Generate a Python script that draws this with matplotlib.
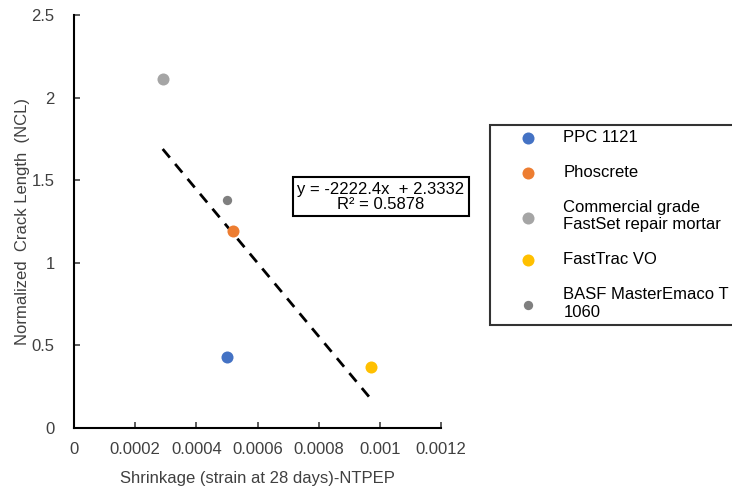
import numpy as np
import matplotlib
matplotlib.use("Agg")
import matplotlib.pyplot as plt

plt.rcParams['font.family'] = ['Liberation Sans', 'DejaVu Sans']

# datos
materials = ["PPC 1121", "Phoscrete", "Commercial grade\nFastSet repair mortar",
             "FastTrac VO", "BASF MasterEmaco T\n1060"]
shrinkage = [0.00050, 0.00052, 0.00029, 0.00097, 0.00050]
ncl = [0.43, 1.19, 2.11, 0.37, 1.38]
colors = ["#4472C4", "#ED7D31", "#A5A5A5", "#FFC000", "#7F7F7F"]
sizes = [75, 75, 75, 75, 45]

# linea de tendencia (Excel)
slope = -2222.4
intercept = 2.3332
r2 = 0.5878

fig = plt.figure(figsize=(7.32, 4.88), dpi=100)
ax = fig.add_axes([74/732, 1-428/488, (441-74)/732, (428-15)/488])

for xi, yi, c, s, lab in zip(shrinkage, ncl, colors, sizes, materials):
    ax.scatter(xi, yi, s=s, color=c, label=lab, zorder=3, linewidths=0)

xt = np.array([min(shrinkage), max(shrinkage)])
ax.plot(xt, slope*xt + intercept, color="black", lw=2, ls=(0, (4, 3)), zorder=2)

ax.text(0.001004, 1.40, "y = -2222.4x  + 2.3332\nR² = %.4f" % r2, ha="center", va="center",
        fontsize=12, multialignment="center", linespacing=1.0, clip_on=False,
        bbox=dict(boxstyle="square,pad=0.28", fc="white", ec="black", lw=1.5))

ax.set_xlim(0, 0.0012)
ax.set_ylim(0, 2.5)
ax.set_xticks([0, 0.0002, 0.0004, 0.0006, 0.0008, 0.001, 0.0012])
ax.set_xticklabels(["0", "0.0002", "0.0004", "0.0006", "0.0008", "0.001", "0.0012"])
ax.set_yticks([0, 0.5, 1, 1.5, 2, 2.5])
ax.set_yticklabels(["0", "0.5", "1", "1.5", "2", "2.5"])
ax.tick_params(direction="in", length=4, width=1.2, labelsize=12, colors="#404040")
ax.tick_params(axis="x", pad=10)
ax.tick_params(axis="y", pad=14)
for sp in ["top", "right"]:
    ax.spines[sp].set_visible(False)
for sp in ["left", "bottom"]:
    ax.spines[sp].set_linewidth(1.5)
ax.set_xlabel("Shrinkage (strain at 28 days)-NTPEP", fontsize=12, color="#404040", labelpad=10)
ax.set_ylabel("Normalized  Crack Length  (NCL)", fontsize=12, color="#404040", labelpad=1)

leg = fig.legend(loc="upper left", bbox_to_anchor=(490/732, 1-125/488), borderaxespad=0,
                 fontsize=12, frameon=True, fancybox=False, labelspacing=1.2,
                 handletextpad=0.1, borderpad=0.3, handlelength=4.0)
leg.get_frame().set_edgecolor("black")
leg.get_frame().set_linewidth(1.5)

fig.savefig("out.png", dpi=100)
